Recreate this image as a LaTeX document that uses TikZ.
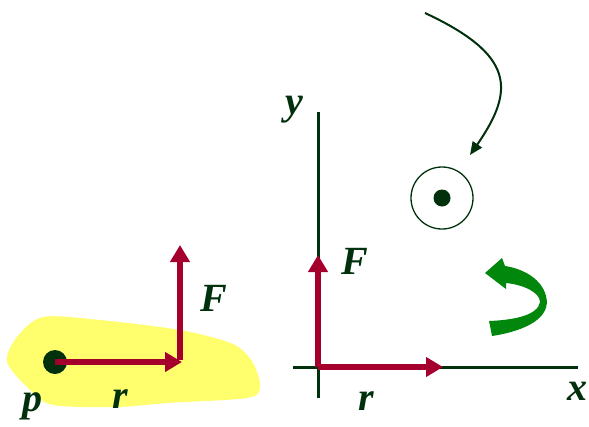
\documentclass[tikz,border=0pt]{standalone}
\usepackage{fontspec}
\setmainfont{Liberation Serif}
\usetikzlibrary{arrows.meta,positioning}

\definecolor{vecred}{RGB}{165,0,45}
\definecolor{axisgreen}{RGB}{0,48,12}
\definecolor{blobyellow}{RGB}{255,255,110}
\definecolor{turngreen}{RGB}{0,135,12}

\begin{document}
\begin{tikzpicture}[
      x=1pt, y=-1pt, line join=round, >=Latex,
      vec/.style={vecred, line width=6pt,
        -{Triangle[length=17pt,width=19pt]}},
      axisline/.style={axisgreen, line width=3pt},
      lbl/.style={axisgreen, inner sep=0pt,
        font=\fontsize{40}{40}\selectfont\bfseries\itshape}
    ]
    \useasboundingbox (0,0) rectangle (589,426);

    % ------------------ Body with point p ------------------
    \fill[blobyellow] plot[smooth cycle, tension=0.5] coordinates {
      (7,362) (17,337) (43,317) (100,320) (180,330) (233,344)
      (253,363) (260,387) (247,398) (167,403) (117,407) (53,405)
      (30,390)};

    \node[circle, fill=axisgreen, minimum size=24pt, inner sep=0pt]
      (p) at (55,362) {};
    \coordinate (rtipleft) at (182,362);
    \coordinate (fbaseleft) at (180,360);
    \coordinate (ftipleft) at (180,245);

    \draw[vec] (p.center) -- (rtipleft);
    \draw[vec] (fbaseleft) -- (ftipleft);

    \node[lbl] (plabel) at (32,406) {p};
    \node[lbl] (rlabelleft) at (120,399) {r};
    \node[lbl] (flabelleft) at (214,298) {F};

    % ------------------ Axes ------------------
    \coordinate (origin) at (318,367);
    \coordinate (xend) at (578,367);
    \coordinate (xstart) at (293,367);
    \coordinate (ystart) at (318,398);
    \coordinate (yend) at (318,112);
    \draw[axisline] (xstart) -- (xend);
    \draw[axisline] (ystart) -- (yend);

    \coordinate (rtip) at (443,367);
    \coordinate (ftip) at (318,255);
    \draw[vec] (origin) -- (rtip);
    \draw[vec] (origin) -- (ftip);

    \node[lbl] (ylabel) at (294,110) {y};
    \node[lbl] (xlabel) at (577,391) {x};
    \node[lbl] (flabel) at (355,261) {F};
    \node[lbl] (rlabel) at (366,401) {r};

    % ------------------ Torque out of the page ------------------
    \node[circle, draw=axisgreen, line width=1.3pt, minimum size=62pt,
      inner sep=0pt] (torque) at (442,198) {};
    \node[circle, fill=axisgreen, minimum size=17pt, inner sep=0pt]
      (torquedot) at (torque.center) {};

    \coordinate (curvestart) at (425,13);
    \coordinate (curveend) at (470,155);
    \draw[axisgreen, line width=2pt,
      -{Triangle[length=13pt,width=11pt]}]
      (curvestart) .. controls (515,55) and (515,90) .. (curveend);

    % ------------------ Turning arrow ------------------
    \fill[turngreen]
      (492,336) .. controls (525,331) and (552,318) .. (546,296)
      .. controls (542,280) and (525,269) .. (505,266)
      -- (502,258) -- (485,273) -- (506,289) -- (506,283)
      .. controls (525,285) and (540,293) .. (540,302)
      .. controls (538,315) and (515,320) .. (489,321) -- cycle;

  \end{tikzpicture}
\end{document}
